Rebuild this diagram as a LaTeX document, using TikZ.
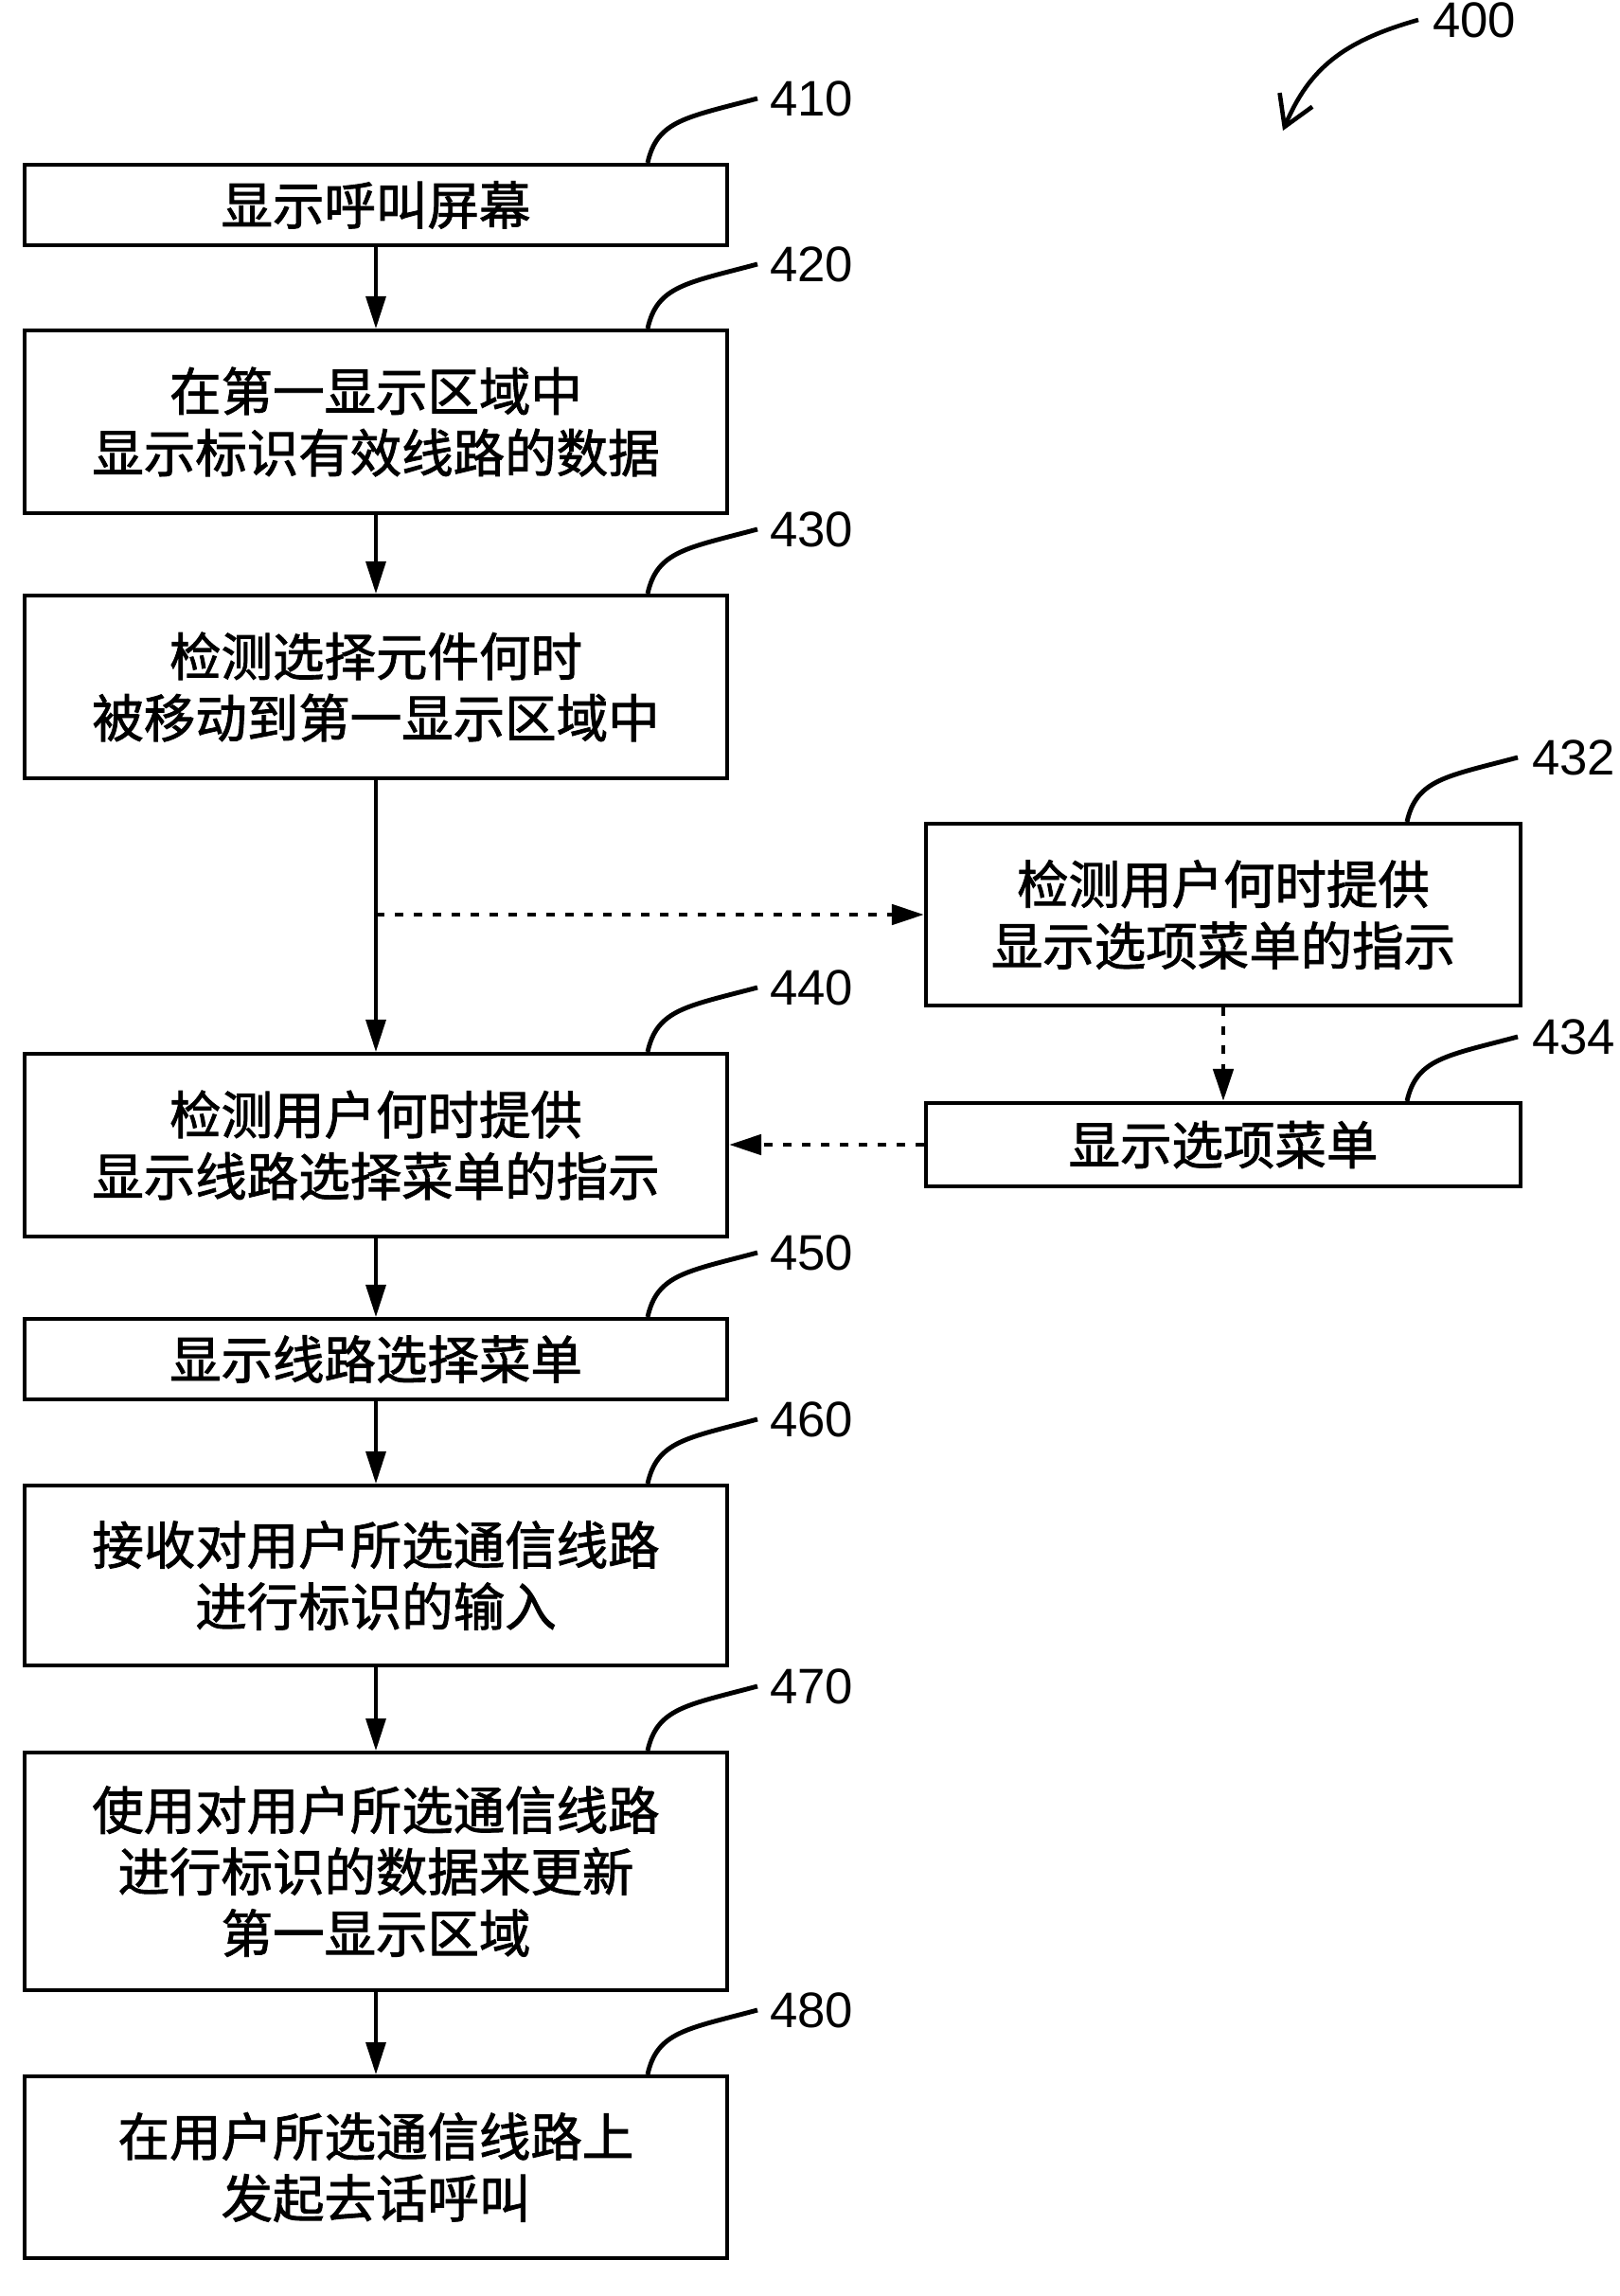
\documentclass[tikz,border=0pt]{standalone}
\usepackage{fontspec}
\setmainfont{Liberation Sans}
\newfontfamily\cjk[FakeBold=1.6]{Noto Sans CJK SC}
\usetikzlibrary{arrows.meta}

\tikzset{
  stepbox/.style={draw, line width=2.3pt, minimum width=14.84cm, inner sep=0pt, align=center,
    font=\cjk\fontsize{31pt}{37pt}\selectfont},
  sidebox/.style={stepbox, minimum width=12.56cm},
  num/.style={anchor=west, inner sep=0pt, font=\fontsize{30pt}{30pt}\selectfont},
  flow/.style={line width=1.9pt, -{Triangle[length=0.68cm,width=0.42cm]}},
  dashflow/.style={flow, line width=2.7pt, dash pattern=on 0.18cm off 0.22cm},
  leader/.style={line width=2.8pt},
}

\begin{document}
\begin{tikzpicture}
        \useasboundingbox (0,0) rectangle (34.2,-48.5);
        % Main column of steps
        \node[stepbox, minimum height=1.70cm] (b410) at (7.94,-4.33) {显示呼叫屏幕};
        \node[stepbox, minimum height=3.86cm] (b420) at (7.94,-8.91) {在第一显示区域中\\显示标识有效线路的数据};
        \node[stepbox, minimum height=3.86cm] (b430) at (7.94,-14.51) {检测选择元件何时\\被移动到第一显示区域中};
        \node[stepbox, minimum height=3.86cm] (b440) at (7.94,-24.19) {检测用户何时提供\\显示线路选择菜单的指示};
        \node[stepbox, minimum height=1.70cm] (b450) at (7.94,-28.71) {显示线路选择菜单};
        \node[stepbox, minimum height=3.80cm] (b460) at (7.94,-33.28) {接收对用户所选通信线路\\进行标识的输入};
        \node[stepbox, minimum height=5.02cm] (b470) at (7.94,-39.53) {使用对用户所选通信线路\\进行标识的数据来更新\\第一显示区域};
        \node[stepbox, minimum height=3.84cm] (b480) at (7.94,-45.78) {在用户所选通信线路上\\发起去话呼叫};

        % Optional branch
        \node[sidebox, minimum height=3.84cm] (b432) at (25.84,-19.32) {检测用户何时提供\\显示选项菜单的指示};
        \node[sidebox, minimum height=1.76cm] (b434) at (25.84,-24.18) {显示选项菜单};

        % Flow arrows
        \draw[flow] (b410) -- (b420);
        \draw[flow] (b420) -- (b430);
        \draw[flow] (b430) -- (b440);
        \draw[flow] (b440) -- (b450);
        \draw[flow] (b450) -- (b460);
        \draw[flow] (b460) -- (b470);
        \draw[flow] (b470) -- (b480);

        \coordinate (split) at (b430.south |- b432.west);
        \draw[dashflow] (split) -- (b432.west);
        \draw[dashflow] (b432) -- (b434);
        \draw[dashflow] (b434.west) -- (b434.west -| b440.east);

        % Reference numbers
        \node[num] (n410) at (16.26,-2.08) {410};
        \node[num] (n420) at (16.26,-5.58) {420};
        \node[num] (n430) at (16.26,-11.18) {430};
        \node[num] (n440) at (16.26,-20.86) {440};
        \node[num] (n450) at (16.26,-26.46) {450};
        \node[num] (n460) at (16.26,-29.98) {460};
        \node[num] (n470) at (16.26,-35.62) {470};
        \node[num] (n480) at (16.26,-42.46) {480};
        \node[num] (n432) at (32.36,-16.00) {432};
        \node[num] (n434) at (32.36,-21.90) {434};

        \foreach \id in {410,420,430,440,450,460,470,480}
          \draw[leader] ([xshift=-1.72cm]b\id.north east) .. controls +(0.2,0.9) and +(-1.5,-0.4) .. ([xshift=-0.26cm]n\id.west);
        \foreach \id in {432,434}
          \draw[leader] ([xshift=-2.44cm]b\id.north east) .. controls +(0.2,0.9) and +(-1.5,-0.4) .. ([xshift=-0.3cm]n\id.west);

        % Figure number
        \node[num] (n400) at (30.26,-0.42) {400};
        \coordinate (tip400) at (27.10,-2.76);
        \draw[line width=2.6pt, -{Straight Barb[length=0.62cm,width=0.75cm]}] ([xshift=-0.3cm]n400.west) .. controls +(-1.6,-0.45) and +(0.55,1.3) .. (tip400);
    \end{tikzpicture}
\end{document}
